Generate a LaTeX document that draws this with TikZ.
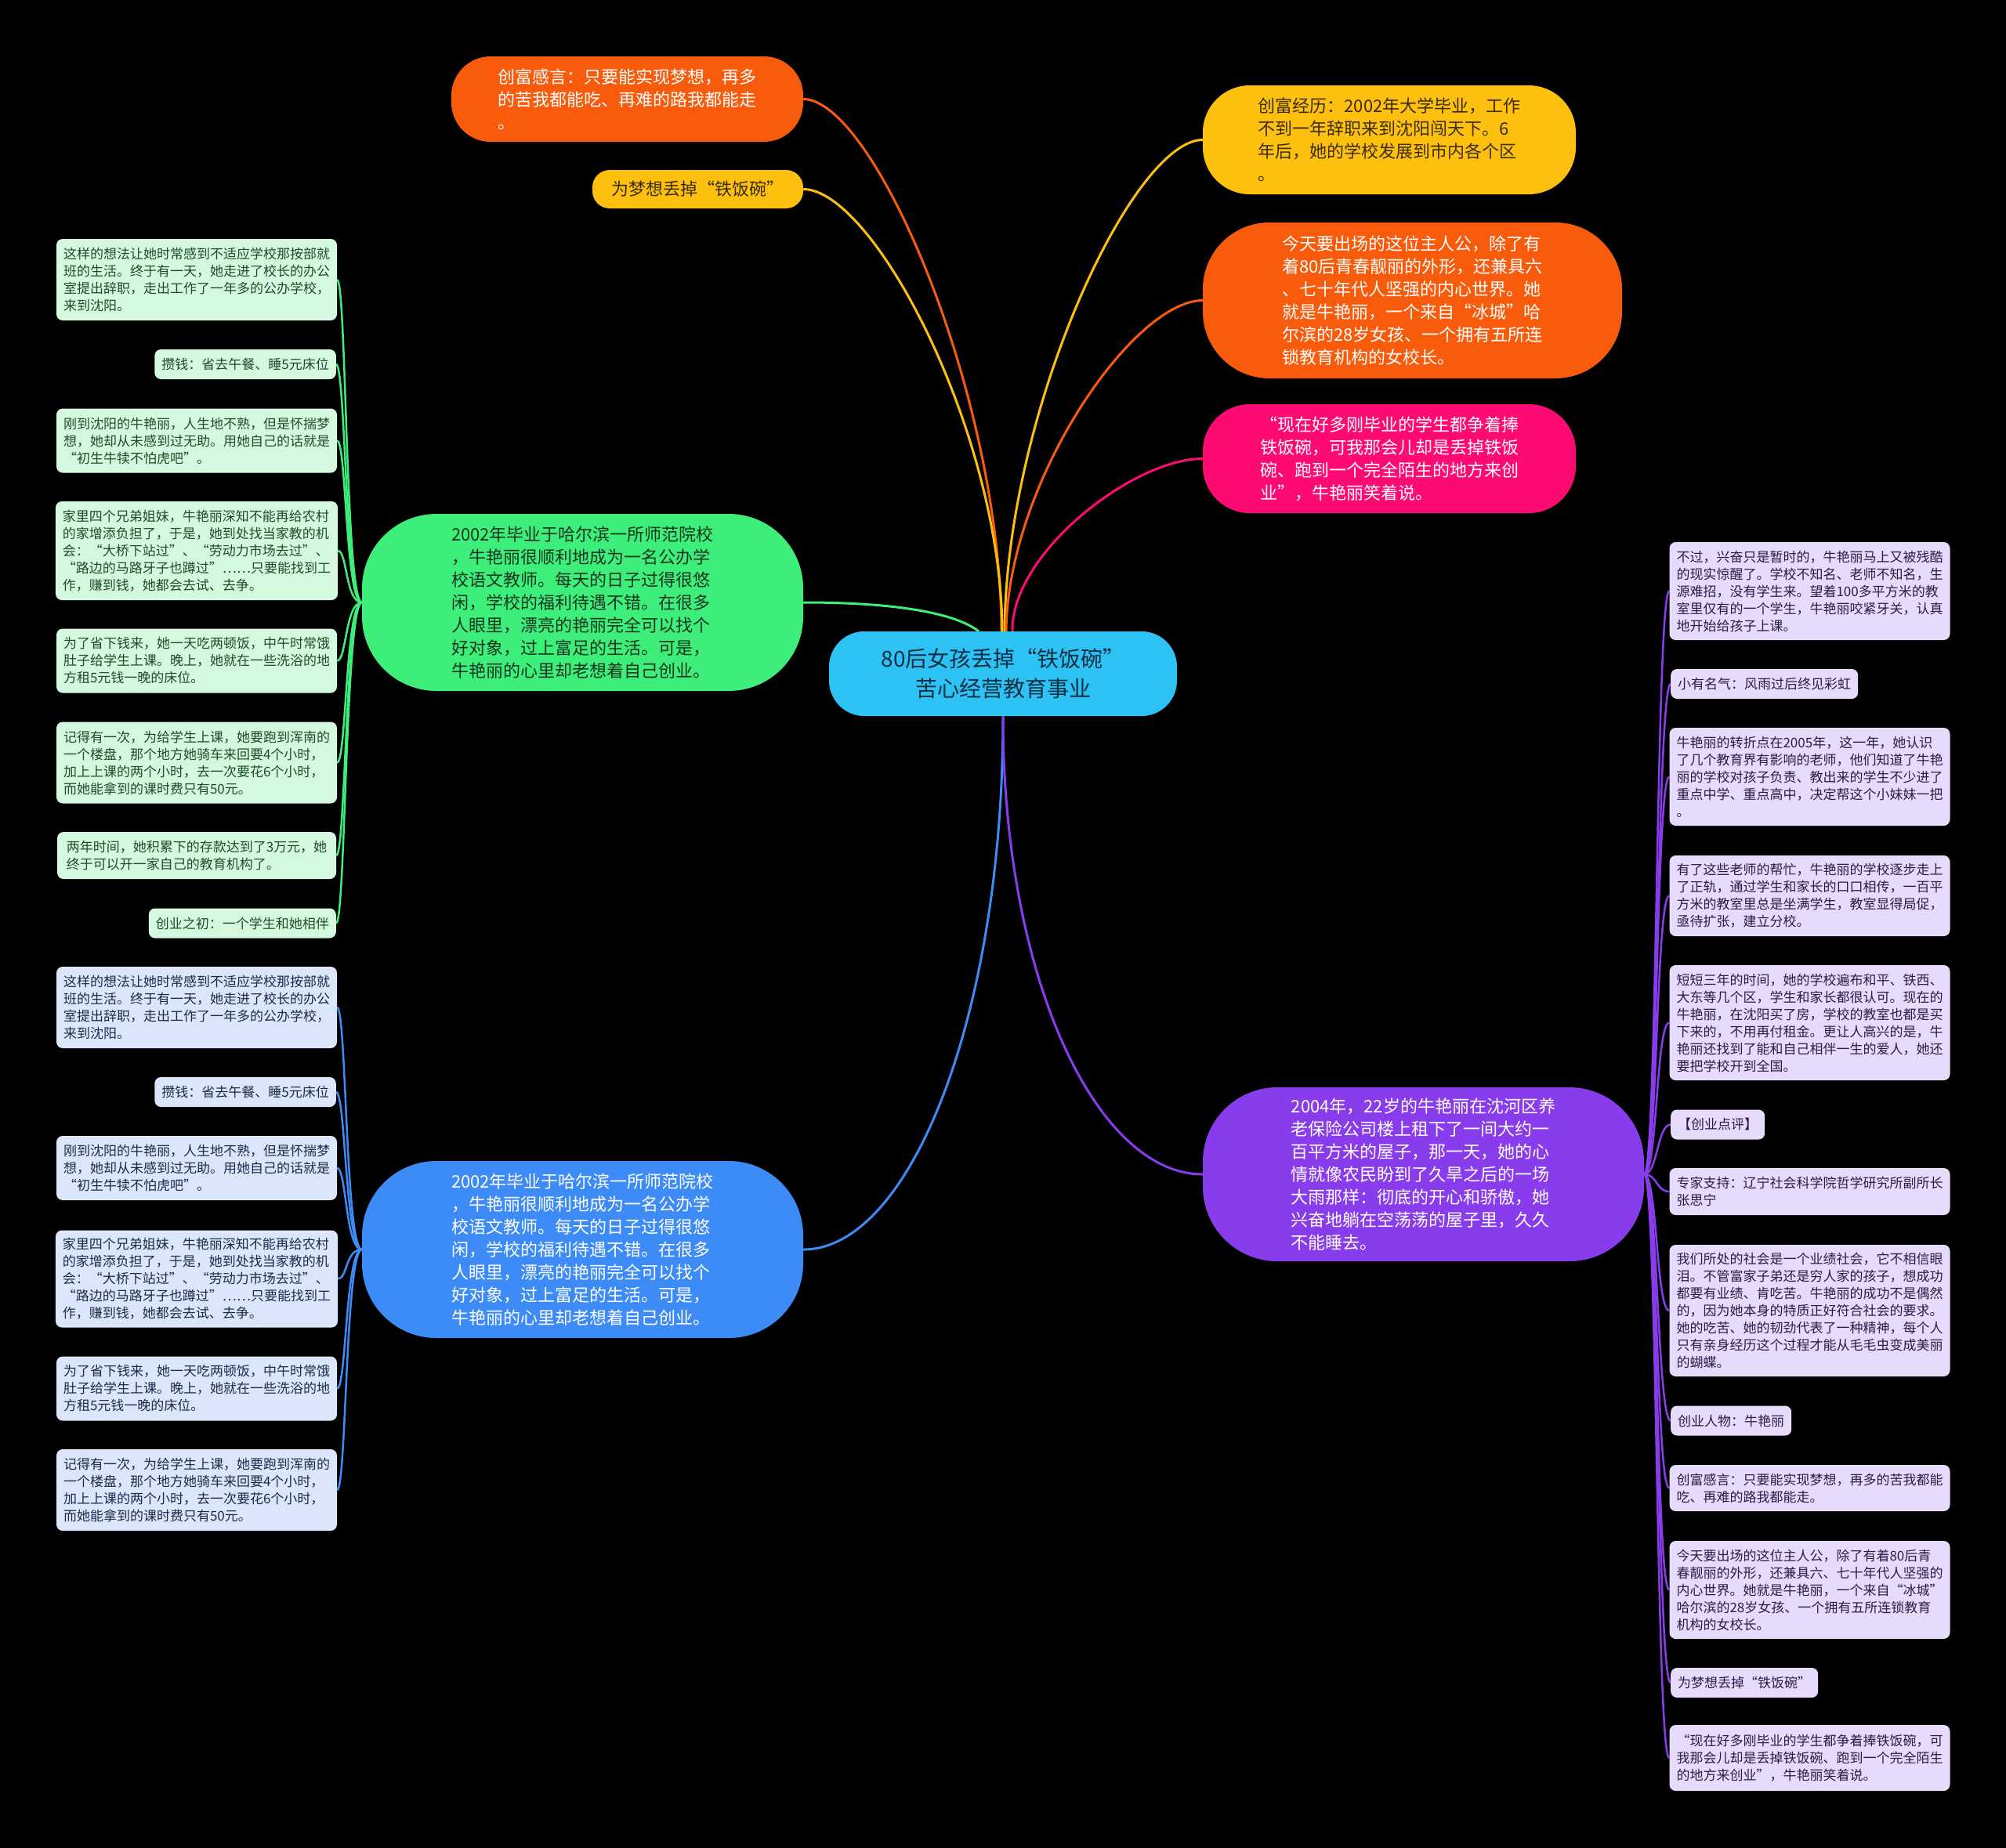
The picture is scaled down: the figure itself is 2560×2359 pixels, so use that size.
\documentclass[tikz,border=0pt]{standalone}
\usepackage{fontspec}
\setmainfont{Noto Sans CJK SC}
\usetikzlibrary{calc}
\pgfdeclarelayer{bg}
\pgfsetlayers{bg,main}
\definecolor{corange}{HTML}{F95B0C}
\definecolor{camber}{HTML}{FEC00F}
\definecolor{cpink}{HTML}{FD0A72}
\definecolor{cgreen}{HTML}{3EEE7B}
\definecolor{cblue}{HTML}{3D8BF7}
\definecolor{cpurple}{HTML}{893CEB}
\definecolor{ccyan}{HTML}{2CC3F4}
\definecolor{tcyan}{HTML}{0E2E45}
\definecolor{tamber}{HTML}{3A2C06}
\definecolor{tgreen}{HTML}{17361F}
\definecolor{lgreen}{HTML}{D5F9DF}
\definecolor{ltgreen}{HTML}{1D4D2A}
\definecolor{lblue}{HTML}{DCE6FA}
\definecolor{ltblue}{HTML}{1B2B4B}
\definecolor{lpurple}{HTML}{E6DBFA}
\definecolor{ltpurple}{HTML}{2D1A4A}
\tikzset{
  big/.style={rounded corners=#1, inner sep=0pt, align=left, font=\fontsize{22}{29}\selectfont},
  leaf/.style={rounded corners=8pt, inner xsep=9pt, inner ysep=0pt, align=left, font=\fontsize{17}{22}\selectfont},
  wideg/.style={leaf, fill=lgreen, text=ltgreen, minimum width=356pt},
  narrowg/.style={leaf, fill=lgreen, text=ltgreen, anchor=east, minimum height=38pt},
  wideb/.style={leaf, fill=lblue, text=ltblue, minimum width=356pt},
  narrowb/.style={leaf, fill=lblue, text=ltblue, anchor=east, minimum height=38pt},
  widep/.style={leaf, fill=lpurple, text=ltpurple, minimum width=355pt},
  narrowp/.style={leaf, fill=lpurple, text=ltpurple, anchor=west, minimum height=38pt},
  mconn/.style={line width=3pt},
  lconn/.style={line width=2.5pt},
}
\begin{document}
\begin{tikzpicture}[x=1pt,y=-1pt]
\useasboundingbox (0,0) rectangle (2560,2359);
\begin{pgfonlayer}{bg}
\fill[black] (0,0) rectangle (2560,2359);
\end{pgfonlayer}

% central
\node[big=45pt, fill=ccyan, text=tcyan, minimum width=444pt, minimum height=108pt, align=center, font=\fontsize{28}{38}\selectfont] (c) at (1280,860) {80后女孩丢掉“铁饭碗”\\苦心经营教育事业};

% main branches
\node[big=50pt, fill=corange, text=white, minimum width=449pt, minimum height=109pt] (a1) at (800.5,126.5) {创富感言：只要能实现梦想，再多\\的苦我都能吃、再难的路我都能走\\。};
\node[big=22pt, fill=camber, text=tamber, minimum width=269pt, minimum height=49pt] (a2) at (890.5,241.5) {为梦想丢掉“铁饭碗”};
\node[big=60pt, fill=camber, text=tamber, minimum width=476pt, minimum height=139pt] (b1) at (1773,178.5) {创富经历：2002年大学毕业，工作\\不到一年辞职来到沈阳闯天下。6\\年后，她的学校发展到市内各个区\\。};
\node[big=85pt, fill=corange, text=white, minimum width=535pt, minimum height=199pt] (b2) at (1802.5,383.5) {今天要出场的这位主人公，除了有\\着80后青春靓丽的外形，还兼具六\\、七十年代人坚强的内心世界。她\\就是牛艳丽，一个来自“冰城”哈\\尔滨的28岁女孩、一个拥有五所连\\锁教育机构的女校长。};
\node[big=60pt, fill=cpink, text=white, minimum width=476pt, minimum height=139pt] (b3) at (1773,585.5) {“现在好多刚毕业的学生都争着捧\\铁饭碗，可我那会儿却是丢掉铁饭\\碗、跑到一个完全陌生的地方来创\\业”，牛艳丽笑着说。};
\node[big=95pt, fill=cgreen, text=tgreen, minimum width=563pt, minimum height=226pt] (g) at (743.5,769) {2002年毕业于哈尔滨一所师范院校\\，牛艳丽很顺利地成为一名公办学\\校语文教师。每天的日子过得很悠\\闲，学校的福利待遇不错。在很多\\人眼里，漂亮的艳丽完全可以找个\\好对象，过上富足的生活。可是，\\牛艳丽的心里却老想着自己创业。};
\node[big=95pt, fill=cblue, text=white, minimum width=563pt, minimum height=226pt] (u) at (743.5,1595) {2002年毕业于哈尔滨一所师范院校\\，牛艳丽很顺利地成为一名公办学\\校语文教师。每天的日子过得很悠\\闲，学校的福利待遇不错。在很多\\人眼里，漂亮的艳丽完全可以找个\\好对象，过上富足的生活。可是，\\牛艳丽的心里却老想着自己创业。};
\node[big=95pt, fill=cpurple, text=white, minimum width=563pt, minimum height=222pt] (p) at (1816.5,1499) {2004年，22岁的牛艳丽在沈河区养\\老保险公司楼上租下了一间大约一\\百平方米的屋子，那一天，她的心\\情就像农民盼到了久旱之后的一场\\大雨那样：彻底的开心和骄傲，她\\兴奋地躺在空荡荡的屋子里，久久\\不能睡去。};

% green leaves
\node[wideg, minimum height=104pt] (gL1) at (251,357) {这样的想法让她时常感到不适应学校那按部就\\班的生活。终于有一天，她走进了校长的办公\\室提出辞职，走出工作了一年多的公办学校，\\来到沈阳。};
\node[narrowg] (gL2) at (429,465) {攒钱：省去午餐、睡5元床位};
\node[wideg, minimum height=82pt] (gL3) at (251,562.5) {刚到沈阳的牛艳丽，人生地不熟，但是怀揣梦\\想，她却从未感到过无助。用她自己的话就是\\“初生牛犊不怕虎吧”。};
\node[wideg, minimum height=126pt] (gL4) at (251,703) {家里四个兄弟姐妹，牛艳丽深知不能再给农村\\的家增添负担了，于是，她到处找当家教的机\\会：“大桥下站过”、“劳动力市场去过”、\\“路边的马路牙子也蹲过”……只要能找到工\\作，赚到钱，她都会去试、去争。};
\node[wideg, minimum height=82pt] (gL5) at (251,843.5) {为了省下钱来，她一天吃两顿饭，中午时常饿\\肚子给学生上课。晚上，她就在一些洗浴的地\\方租5元钱一晚的床位。};
\node[wideg, minimum height=104pt] (gL6) at (251,973.5) {记得有一次，为给学生上课，她要跑到浑南的\\一个楼盘，那个地方她骑车来回要4个小时，\\加上上课的两个小时，去一次要花6个小时，\\而她能拿到的课时费只有50元。};
\node[wideg, minimum height=60pt] (gL7) at (251,1092) {两年时间，她积累下的存款达到了3万元，她\\终于可以开一家自己的教育机构了。};
\node[narrowg] (gL8) at (429,1178.5) {创业之初：一个学生和她相伴};

% blue leaves
\node[wideb, minimum height=104pt] (bL1) at (251,1286) {这样的想法让她时常感到不适应学校那按部就\\班的生活。终于有一天，她走进了校长的办公\\室提出辞职，走出工作了一年多的公办学校，\\来到沈阳。};
\node[narrowb] (bL2) at (429,1394) {攒钱：省去午餐、睡5元床位};
\node[wideb, minimum height=82pt] (bL3) at (251,1491) {刚到沈阳的牛艳丽，人生地不熟，但是怀揣梦\\想，她却从未感到过无助。用她自己的话就是\\“初生牛犊不怕虎吧”。};
\node[wideb, minimum height=124pt] (bL4) at (251,1632.5) {家里四个兄弟姐妹，牛艳丽深知不能再给农村\\的家增添负担了，于是，她到处找当家教的机\\会：“大桥下站过”、“劳动力市场去过”、\\“路边的马路牙子也蹲过”……只要能找到工\\作，赚到钱，她都会去试、去争。};
\node[wideb, minimum height=82pt] (bL5) at (251,1772.5) {为了省下钱来，她一天吃两顿饭，中午时常饿\\肚子给学生上课。晚上，她就在一些洗浴的地\\方租5元钱一晚的床位。};
\node[wideb, minimum height=104pt] (bL6) at (251,1902) {记得有一次，为给学生上课，她要跑到浑南的\\一个楼盘，那个地方她骑车来回要4个小时，\\加上上课的两个小时，去一次要花6个小时，\\而她能拿到的课时费只有50元。};

% purple leaves
\node[widep, minimum height=125pt] (pL1) at (2309.5,754.5) {不过，兴奋只是暂时的，牛艳丽马上又被残酷\\的现实惊醒了。学校不知名、老师不知名，生\\源难招，没有学生来。望着100多平方米的教\\室里仅有的一个学生，牛艳丽咬紧牙关，认真\\地开始给孩子上课。};
\node[narrowp] (pL2) at (2132,873) {小有名气：风雨过后终见彩虹};
\node[widep, minimum height=125pt] (pL3) at (2309.5,991.5) {牛艳丽的转折点在2005年，这一年，她认识\\了几个教育界有影响的老师，他们知道了牛艳\\丽的学校对孩子负责、教出来的学生不少进了\\重点中学、重点高中，决定帮这个小妹妹一把\\。};
\node[widep, minimum height=103pt] (pL4) at (2309.5,1143.5) {有了这些老师的帮忙，牛艳丽的学校逐步走上\\了正轨，通过学生和家长的口口相传，一百平\\方米的教室里总是坐满学生，教室显得局促，\\亟待扩张，建立分校。};
\node[widep, minimum height=147pt] (pL5) at (2309.5,1305.5) {短短三年的时间，她的学校遍布和平、铁西、\\大东等几个区，学生和家长都很认可。现在的\\牛艳丽，在沈阳买了房，学校的教室也都是买\\下来的，不用再付租金。更让人高兴的是，牛\\艳丽还找到了能和自己相伴一生的爱人，她还\\要把学校开到全国。};
\node[narrowp] (pL6) at (2132,1435.5) {【创业点评】};
\node[widep, minimum height=60pt] (pL7) at (2309.5,1521) {专家支持：辽宁社会科学院哲学研究所副所长\\张思宁};
\node[widep, minimum height=168pt] (pL8) at (2309.5,1673) {我们所处的社会是一个业绩社会，它不相信眼\\泪。不管富家子弟还是穷人家的孩子，想成功\\都要有业绩、肯吃苦。牛艳丽的成功不是偶然\\的，因为她本身的特质正好符合社会的要求。\\她的吃苦、她的韧劲代表了一种精神，每个人\\只有亲身经历这个过程才能从毛毛虫变成美丽\\的蝴蝶。};
\node[narrowp] (pL9) at (2132,1813.5) {创业人物：牛艳丽};
\node[widep, minimum height=59pt] (pL10) at (2309.5,1899.5) {创富感言：只要能实现梦想，再多的苦我都能\\吃、再难的路我都能走。};
\node[widep, minimum height=125pt] (pL11) at (2309.5,2029.5) {今天要出场的这位主人公，除了有着80后青\\春靓丽的外形，还兼具六、七十年代人坚强的\\内心世界。她就是牛艳丽，一个来自“冰城”\\哈尔滨的28岁女孩、一个拥有五所连锁教育\\机构的女校长。};
\node[narrowp] (pL12) at (2132,2148) {为梦想丢掉“铁饭碗”};
\node[widep, minimum height=84pt] (pL13) at (2309.5,2244) {“现在好多刚毕业的学生都争着捧铁饭碗，可\\我那会儿却是丢掉铁饭碗、跑到一个完全陌生\\的地方来创业”，牛艳丽笑着说。};

\begin{pgfonlayer}{bg}
% main connectors
\draw[mconn, corange] (a1.east) .. controls ($(a1.east)+(89,0)$) and ($(c.north)+(-3,-306)$) .. ([xshift=-2pt]c.north);
\draw[mconn, camber] (a2.east) .. controls ($(a2.east)+(89,0)$) and ($(c.north)+(-2,-254)$) .. ([xshift=-1pt]c.north);
\draw[mconn, camber] (b1.west) .. controls ($(b1.west)+(-89,0)$) and ($(c.north)+(4,-283)$) .. ([xshift=2pt]c.north);
\draw[mconn, corange] (b2.west) .. controls ($(b2.west)+(-89,0)$) and ($(c.north)+(6,-190)$) .. ([xshift=4pt]c.north);
\draw[mconn, cpink] (b3.west) .. controls ($(b3.west)+(-89,0)$) and ($(c.north)+(10,-99)$) .. ([xshift=12pt]c.north);
\draw[mconn, cgreen] (g.east) .. controls ($(g.east)+(105,0)$) and ($(c.north)+(-65,-26)$) .. ([xshift=-31pt]c.north);
\draw[mconn, cblue] (c.south) .. controls ($(c.south)+(0,386)$) and ($(u.east)+(135,0)$) .. (u.east);
\draw[mconn, cpurple] (c.south) .. controls ($(c.south)+(0,336)$) and ($(p.west)+(-135,0)$) .. (p.west);
% leaf connectors
\foreach \n in {gL1,gL2,gL3,gL4,gL5,gL6,gL7,gL8}
  \draw[lconn, cgreen] (g.west) .. controls ($(g.west)+(-21,0)$) and ($(\n.east)+(12,0)$) .. (\n.east);
\foreach \n in {bL1,bL2,bL3,bL4,bL5,bL6}
  \draw[lconn, cblue] (u.west) .. controls ($(u.west)+(-21,0)$) and ($(\n.east)+(12,0)$) .. (\n.east);
\foreach \n in {pL1,pL2,pL3,pL4,pL5,pL6,pL7,pL8,pL9,pL10,pL11,pL12,pL13}
  \draw[lconn, cpurple] (p.east) .. controls ($(p.east)+(17,0)$) and ($(\n.west)+(-17,0)$) .. (\n.west);
\end{pgfonlayer}
\end{tikzpicture}
\end{document}
